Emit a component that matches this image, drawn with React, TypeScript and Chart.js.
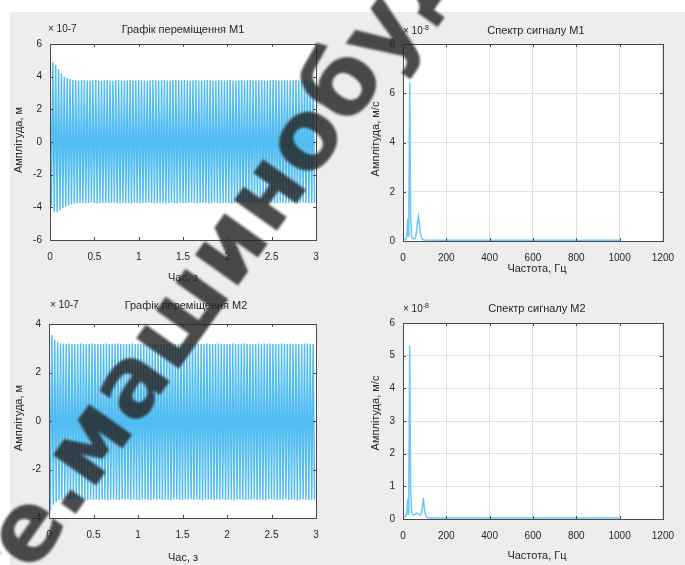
import React, { useEffect, useRef } from 'react';
import { Chart, registerables } from 'chart.js';

Chart.register(...registerables);

// ---------- data ----------
const TIME_MAX = 3;
const CYCLES = 93; // oscillation cycles over the 3 s record (~31 Hz)

const M1_PEAKS = [
  5.10, 4.90, 4.70, 4.45, 4.20, 4.00, 3.90, 3.85, 3.80, 3.78,
  3.76, 3.78, 3.80, 3.77, 3.75, 3.78, 3.80, 3.76, 3.74, 3.78,
  3.79, 3.77, 3.75, 3.78, 3.80, 3.77, 3.76, 3.78, 3.79, 3.75,
  3.77, 3.80, 3.78, 3.76, 3.74, 3.77, 3.79, 3.78, 3.76, 3.78,
  3.80, 3.77, 3.75, 3.78, 3.79, 3.76, 3.78, 3.80, 3.77, 3.75,
  3.78, 3.79, 3.77, 3.76, 3.78, 3.80, 3.78, 3.75, 3.77, 3.79,
  3.78, 3.76, 3.78, 3.80, 3.77, 3.75, 3.78, 3.79, 3.76, 3.78,
  3.80, 3.77, 3.76, 3.78, 3.79, 3.77, 3.75, 3.78, 3.80, 3.78,
  3.76, 3.77, 3.79, 3.78, 3.76, 3.78, 3.80, 3.77, 3.75, 3.78,
  3.79, 3.77, 3.76,
];
const M1_TROUGHS = [
  -3.90, -4.30, -4.30, -4.20, -4.05, -3.95, -3.88, -3.82, -3.78, -3.76,
  -3.74, -3.72, -3.75, -3.73, -3.71, -3.74, -3.76, -3.73, -3.72, -3.74,
  -3.75, -3.73, -3.71, -3.74, -3.75, -3.72, -3.73, -3.74, -3.76, -3.72,
  -3.73, -3.75, -3.74, -3.72, -3.71, -3.73, -3.75, -3.74, -3.72, -3.74,
  -3.76, -3.73, -3.71, -3.74, -3.75, -3.72, -3.74, -3.75, -3.73, -3.71,
  -3.74, -3.75, -3.73, -3.72, -3.74, -3.76, -3.74, -3.71, -3.73, -3.75,
  -3.74, -3.72, -3.74, -3.76, -3.73, -3.71, -3.74, -3.75, -3.72, -3.74,
  -3.76, -3.73, -3.72, -3.74, -3.75, -3.73, -3.71, -3.74, -3.76, -3.74,
  -3.72, -3.73, -3.75, -3.74, -3.72, -3.74, -3.76, -3.73, -3.71, -3.74,
  -3.75, -3.73, -3.72,
];

const M2_PEAKS = [
  3.95, 3.55, 3.35, 3.25, 3.20, 3.19, 3.18, 3.20, 3.17, 3.19,
  3.18, 3.20, 3.17, 3.16, 3.19, 3.20, 3.18, 3.17, 3.19, 3.18,
  3.20, 3.17, 3.18, 3.19, 3.20, 3.18, 3.16, 3.19, 3.18, 3.20,
  3.17, 3.19, 3.18, 3.20, 3.18, 3.17, 3.19, 3.20, 3.18, 3.17,
  3.19, 3.18, 3.20, 3.17, 3.18, 3.19, 3.20, 3.18, 3.16, 3.19,
  3.18, 3.20, 3.17, 3.19, 3.18, 3.20, 3.18, 3.17, 3.19, 3.20,
  3.18, 3.17, 3.19, 3.18, 3.20, 3.17, 3.18, 3.19, 3.20, 3.18,
  3.16, 3.19, 3.18, 3.20, 3.17, 3.19, 3.18, 3.20, 3.18, 3.17,
  3.19, 3.20, 3.18, 3.17, 3.19, 3.18, 3.20, 3.17, 3.18, 3.19,
  3.20, 3.18, 3.17,
];
const M2_TROUGHS = [
  -3.70, -3.45, -3.35, -3.28, -3.25, -3.24, -3.26, -3.23, -3.25, -3.24,
  -3.26, -3.23, -3.25, -3.27, -3.24, -3.25, -3.23, -3.26, -3.24, -3.25,
  -3.27, -3.24, -3.23, -3.25, -3.26, -3.24, -3.25, -3.23, -3.26, -3.24,
  -3.25, -3.27, -3.24, -3.23, -3.25, -3.26, -3.24, -3.25, -3.23, -3.26,
  -3.24, -3.25, -3.27, -3.24, -3.23, -3.25, -3.26, -3.24, -3.25, -3.23,
  -3.26, -3.24, -3.25, -3.27, -3.24, -3.23, -3.25, -3.26, -3.24, -3.25,
  -3.23, -3.26, -3.24, -3.25, -3.27, -3.24, -3.23, -3.25, -3.26, -3.24,
  -3.25, -3.23, -3.26, -3.24, -3.25, -3.27, -3.24, -3.23, -3.25, -3.26,
  -3.24, -3.25, -3.23, -3.26, -3.24, -3.25, -3.27, -3.24, -3.23, -3.25,
  -3.26, -3.24, -3.25,
];

const FREQ_M1 = [0, 12, 18, 21, 24, 27, 31, 35, 40, 48, 56, 62, 67, 71, 75, 80, 86, 92, 100, 150, 300, 500, 700, 900, 1000];
const AMP_M1 = [0.05, 0.08, 0.25, 0.9, 0.2, 1.2, 6.45, 1.0, 0.15, 0.08, 0.1, 0.35, 0.75, 1.0, 0.75, 0.35, 0.12, 0.05, 0.04, 0.03, 0.03, 0.03, 0.03, 0.03, 0.03];

const FREQ_M2 = [0, 12, 18, 21, 24, 27, 31, 35, 40, 48, 56, 64, 72, 80, 86, 90, 94, 98, 104, 112, 150, 300, 500, 700, 900, 1000];
const AMP_M2 = [0.05, 0.08, 0.2, 0.6, 0.15, 1.0, 5.3, 0.9, 0.2, 0.12, 0.15, 0.18, 0.15, 0.12, 0.2, 0.4, 0.65, 0.35, 0.12, 0.04, 0.03, 0.03, 0.03, 0.03, 0.03, 0.03];

const TITLE_1 = 'Графік переміщення М1';
const TITLE_2 = 'Спектр сигналу М1';
const TITLE_3 = 'Графік переміщення М2';
const TITLE_4 = 'Спектр сигналу М2';
const Y_LABEL_DISP = 'Амплітуда, м';
const Y_LABEL_SPEC = 'Амплітуда, м/с';
const X_LABEL_TIME = 'Час, з';
const X_LABEL_FREQ = 'Частота, Гц';

// ---------- helpers ----------
function oscillation(peaks: number[], troughs: number[]) {
  const period = TIME_MAX / CYCLES;
  const pts: { x: number; y: number }[] = [];
  for (let i = 0; i < peaks.length; i++) {
    pts.push({ x: i * period, y: peaks[i] });
    pts.push({ x: (i + 0.5) * period, y: troughs[i] });
  }
  return pts;
}
function pairs(xs: number[], ys: number[]) {
  return xs.map((x, i) => ({ x, y: ys[i] }));
}

const FONT = '"Liberation Sans", Arial, Helvetica, sans-serif';
const TEXT = '#262626';

const boxPlugin = {
  id: 'matlabBox',
  beforeDraw(chart: any) {
    const { ctx, chartArea: a } = chart;
    ctx.save();
    ctx.fillStyle = '#ffffff';
    ctx.fillRect(a.left, a.top, a.right - a.left, a.bottom - a.top);
    ctx.restore();
  },
  afterDraw(chart: any) {
    const { ctx, chartArea: a, scales } = chart;
    ctx.save();
    ctx.strokeStyle = '#4a4a4a';
    ctx.lineWidth = 1;
    ctx.beginPath();
    const tl = 3;
    scales.x.ticks.forEach((t: any) => {
      const px = Math.round(scales.x.getPixelForValue(t.value)) + 0.5;
      ctx.moveTo(px, a.bottom);
      ctx.lineTo(px, a.bottom - tl);
      ctx.moveTo(px, a.top);
      ctx.lineTo(px, a.top + tl);
    });
    scales.y.ticks.forEach((t: any) => {
      const py = Math.round(scales.y.getPixelForValue(t.value)) + 0.5;
      ctx.moveTo(a.left, py);
      ctx.lineTo(a.left + tl, py);
      ctx.moveTo(a.right, py);
      ctx.lineTo(a.right - tl, py);
    });
    ctx.stroke();
    ctx.strokeRect(Math.round(a.left) + 0.5, Math.round(a.top) + 0.5, Math.round(a.right - a.left), Math.round(a.bottom - a.top));
    ctx.restore();
  },
};

type PanelSpec = {
  left: number; top: number; width: number; height: number;
  yw: number; xh: number; padTop: number; padRight: number;
  data: { x: number; y: number }[];
  xmin: number; xmax: number; xstep: number;
  ymin: number; ymax: number; ystep: number;
  grid: boolean; color: string; lw: number;
};

function Panel({ spec }: { spec: PanelSpec }) {
  const ref = useRef<HTMLCanvasElement>(null);
  useEffect(() => {
    const s = spec;
    const tickFont = { family: FONT, size: 10 };
    const chart = new Chart(ref.current as HTMLCanvasElement, {
      type: 'line',
      data: {
        datasets: [{
          data: s.data, borderColor: s.color, borderWidth: s.lw,
          pointRadius: 0, tension: 0, fill: false,
        }],
      },
      options: {
        animation: false, responsive: false, maintainAspectRatio: false,
        events: [],
        layout: { padding: { top: s.padTop, right: s.padRight, left: 0, bottom: 0 } },
        plugins: { legend: { display: false }, tooltip: { enabled: false }, title: { display: false } },
        scales: {
          x: {
            type: 'linear', min: s.xmin, max: s.xmax,
            ticks: { stepSize: s.xstep, padding: 11, font: tickFont, color: TEXT, maxRotation: 0, autoSkip: false, callback: (v: any) => String(v) },
            grid: { display: s.grid, color: '#e2e2e2', drawTicks: false },
            border: { display: false },
            afterFit: (sc: any) => { sc.height = s.xh; },
          },
          y: {
            type: 'linear', min: s.ymin, max: s.ymax,
            ticks: { stepSize: s.ystep, padding: 8, font: tickFont, color: TEXT, autoSkip: false, callback: (v: any) => String(v) },
            grid: { display: s.grid, color: '#e2e2e2', drawTicks: false },
            border: { display: false },
            afterFit: (sc: any) => { sc.width = s.yw; },
          },
        },
      } as any,
      plugins: [boxPlugin],
    });
    return () => chart.destroy();
  }, []);
  return (
    <canvas ref={ref} width={spec.width} height={spec.height}
      style={{ position: 'absolute', left: spec.left, top: spec.top, width: spec.width, height: spec.height }} />
  );
}

function Txt({ x, y, text, size = 11, rotate = false, align = 'center', sup }: any) {
  const tx = align === 'left' ? '0' : '-50%';
  return (
    <div style={{
      position: 'absolute', left: x, top: y, transform: `translate(${tx}, -50%)${rotate ? ' rotate(-90deg)' : ''}`,
      fontFamily: FONT, fontSize: size, color: TEXT, whiteSpace: 'nowrap', lineHeight: 1,
    }}>
      {text}{sup ? <sup style={{ fontSize: size * 0.7 }}>{sup}</sup> : null}
    </div>
  );
}

const LINE_COLOR = '#52bdf2';
const SPEC_COLOR = '#6cc8f4';

const PANELS: PanelSpec[] = [
  { left: 10, top: 30, width: 325, height: 255, yw: 40, xh: 45, padTop: 12, padRight: 19,
    data: oscillation(M1_PEAKS, M1_TROUGHS), xmin: 0, xmax: 3, xstep: 0.5, ymin: -6, ymax: 6, ystep: 2,
    grid: false, color: LINE_COLOR, lw: 1.5 },
  { left: 345, top: 30, width: 340, height: 255, yw: 58, xh: 44, padTop: 12, padRight: 13,
    data: pairs(FREQ_M1, AMP_M1), xmin: 0, xmax: 1200, xstep: 200, ymin: 0, ymax: 8, ystep: 2,
    grid: true, color: SPEC_COLOR, lw: 1.5 },
  { left: 10, top: 310, width: 325, height: 250, yw: 39, xh: 42, padTop: 12, padRight: 19,
    data: oscillation(M2_PEAKS, M2_TROUGHS), xmin: 0, xmax: 3, xstep: 0.5, ymin: -4, ymax: 4, ystep: 2,
    grid: false, color: LINE_COLOR, lw: 1.5 },
  { left: 345, top: 309, width: 340, height: 251, yw: 58, xh: 41, padTop: 12, padRight: 13,
    data: pairs(FREQ_M2, AMP_M2), xmin: 0, xmax: 1200, xstep: 200, ymin: 0, ymax: 6, ystep: 1,
    grid: true, color: SPEC_COLOR, lw: 1.5 },
];

export default function App() {
  return (
    <div style={{ position: 'fixed', left: 0, top: 0, width: 685, height: 565, background: '#ffffff', overflow: 'hidden', filter: 'blur(0.5px)' }}>
      <div style={{ position: 'absolute', left: 10, top: 12, width: 675, height: 553, background: '#ededed' }} />
      {PANELS.map((p, i) => <Panel key={i} spec={p} />)}

      <Txt x={48} y={29} text="× 10-7" align="left" size={10} />
      <Txt x={183} y={29} text={TITLE_1} />
      <Txt x={18} y={140} text={Y_LABEL_DISP} rotate />
      <Txt x={183} y={277} text={X_LABEL_TIME} />

      <Txt x={403} y={30} text="× 10" sup="-8" align="left" size={10} />
      <Txt x={536} y={30} text={TITLE_2} />
      <Txt x={375} y={139} text={Y_LABEL_SPEC} rotate />
      <Txt x={537} y={268} text={X_LABEL_FREQ} />

      <Txt x={50} y={305} text="× 10-7" align="left" size={10} />
      <Txt x={186} y={305} text={TITLE_3} />
      <Txt x={18} y={418} text={Y_LABEL_DISP} rotate />
      <Txt x={183} y={557} text={X_LABEL_TIME} />

      <Txt x={403} y={308} text="× 10" sup="-8" align="left" size={10} />
      <Txt x={537} y={308} text={TITLE_4} />
      <Txt x={375} y={413} text={Y_LABEL_SPEC} rotate />
      <Txt x={537} y={555} text={X_LABEL_FREQ} />

      <div style={{
        position: 'absolute', left: 210, top: 268, transform: 'translate(-50%, -50%) rotate(-54.6deg)',
        fontFamily: '"DejaVu Sans", sans-serif', fontWeight: 'bold', fontSize: 96, color: 'rgba(35,35,35,0.82)',
        whiteSpace: 'nowrap', lineHeight: 1, pointerEvents: 'none', filter: 'blur(1px)',
      }}>re.машинобуд</div>
    </div>
  );
}
